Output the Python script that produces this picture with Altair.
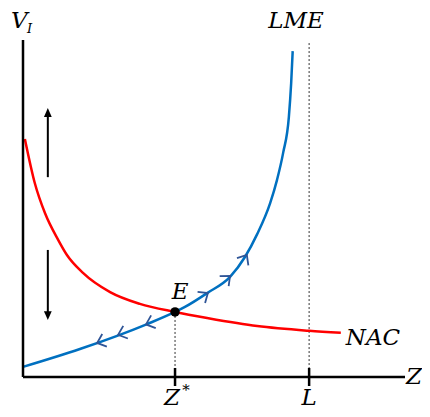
import altair as alt
import pandas as pd

# ---- data (Z on x, V_I on y; axes 0..10) ----
lme_z = [0.0, 1.49, 3.25, 3.98, 4.24, 4.82, 5.42, 5.81, 6.13, 6.47, 6.65, 6.81, 6.96, 7.02, 7.06]
lme_v = [0.30, 0.83, 1.57, 1.93, 2.08, 2.49, 2.97, 3.56, 4.24, 5.16, 5.85, 6.65, 7.72, 8.72, 9.67]

nac_z = [0.05, 0.31, 0.58, 0.92, 1.15, 1.57, 2.28, 3.06, 3.98, 4.82, 6.13, 7.49, 8.32]
nac_v = [7.06, 5.75, 4.85, 4.07, 3.62, 3.09, 2.52, 2.17, 1.93, 1.75, 1.51, 1.37, 1.31]

z_star = 3.98
v_star = 1.93
z_L = 7.49
v_L_top = 9.91

# flow chevrons along LME
chev_z = [1.94, 2.49, 3.22, 4.84, 5.42, 5.86]
chev_v = [1.01, 1.25, 1.56, 2.49, 3.00, 3.62]
chev_ang = [160, 160, 160, 326, 318, 302]

# vertical adjustment arrows
arrow_z = 0.65
up_from, up_to = 5.93, 7.98
down_from, down_to = 3.77, 1.69

W, H = 382, 337
XS = alt.Scale(domain=[0, 10], nice=False, zero=False)
YS = alt.Scale(domain=[0, 10], nice=False, zero=False)
FONT = "DejaVu Serif"
FS = 23
BLUE = "#0070C0"
RED = "#FF0000"
CHEV = "#2F5597"


def X(f="Z"):
    return alt.X(f"{f}:Q", scale=XS, axis=None)


def Y(f="V"):
    return alt.Y(f"{f}:Q", scale=YS, axis=None)


lme_df = pd.DataFrame({"Z": lme_z, "V": lme_v, "o": range(len(lme_z))})
nac_df = pd.DataFrame({"Z": nac_z, "V": nac_v, "o": range(len(nac_z))})
chev_df = pd.DataFrame({"Z": chev_z, "V": chev_v, "ang": chev_ang})

# axes lines
x_axis = alt.Chart(pd.DataFrame({"a": [0]})).mark_rule(color="black", strokeWidth=2.5).encode(
    x=alt.value(0), x2=alt.value(W), y=alt.value(H))
y_axis = alt.Chart(pd.DataFrame({"a": [0]})).mark_rule(color="black", strokeWidth=2.5).encode(
    x=alt.value(0), y=alt.value(0), y2=alt.value(H))

# tick marks at Z* and L
ticks = alt.Chart(pd.DataFrame({"Z": [z_star, z_L]})).mark_rule(color="black", strokeWidth=2.5).encode(
    x=X(), y=alt.value(H - 9), y2=alt.value(H + 9))

# dashed guides
guides = alt.Chart(pd.DataFrame({"Z": [z_star, z_L], "V": [v_star, v_L_top], "V0": [0, 0]})).mark_rule(
    color="#333333", strokeWidth=1, strokeDash=[2, 2]).encode(x=X(), y=Y(), y2="V0:Q")

nac = alt.Chart(nac_df).mark_line(color=RED, strokeWidth=2.5, interpolate="monotone").encode(
    x=X(), y=Y(), order="o:O")
lme = alt.Chart(lme_df).mark_line(color=BLUE, strokeWidth=2.5, interpolate="monotone").encode(
    x=X(), y=Y(), order="o:O")

chev = alt.Chart(chev_df).mark_point(
    shape="M-1,-0.85L0,0L-1,0.85", filled=False, color=CHEV, strokeWidth=1.8, size=250, opacity=1
).encode(x=X(), y=Y(), angle=alt.Angle("ang:Q", scale=None))

eq = alt.Chart(pd.DataFrame({"Z": [z_star], "V": [v_star]})).mark_point(
    filled=True, color="black", size=90, opacity=1).encode(x=X(), y=Y())

# adjustment arrows
shafts = alt.Chart(pd.DataFrame({"Z": [arrow_z, arrow_z], "V": [up_from, down_from],
                                 "V2": [up_to - 0.2, down_to + 0.2]})).mark_rule(
    color="black", strokeWidth=2).encode(x=X(), y=Y(), y2="V2:Q")
head_up = alt.Chart(pd.DataFrame({"Z": [arrow_z], "V": [up_to]})).mark_point(
    shape="M0,0L-0.55,1.25L0.55,1.25Z", filled=True, color="black", size=200, opacity=1).encode(x=X(), y=Y())
head_down = alt.Chart(pd.DataFrame({"Z": [arrow_z], "V": [down_to]})).mark_point(
    shape="M0,0L-0.55,-1.25L0.55,-1.25Z", filled=True, color="black", size=200, opacity=1).encode(x=X(), y=Y())


def label(txt, size=FS, align="left", baseline="alphabetic", **enc):
    return alt.Chart(pd.DataFrame({"a": [0]})).mark_text(
        text=txt, font=FONT, fontStyle="italic", fontSize=size, align=align, baseline=baseline,
        color="black").encode(**enc)


t_V = label("V", x=alt.value(-12), y=alt.value(-12))
t_I = label("I", size=13, x=alt.value(4), y=alt.value(-7))
t_LME = label("LME", align="center", x=alt.value(273), y=alt.value(-12))
t_E = alt.Chart(pd.DataFrame({"Z": [z_star], "V": [v_star]})).mark_text(
    text="E", font=FONT, fontStyle="italic", fontSize=FS, align="center", baseline="alphabetic",
    dx=5, dy=-13, color="black").encode(x=X(), y=Y())
t_NAC = alt.Chart(pd.DataFrame({"Z": [nac_z[-1]], "V": [nac_v[-1]]})).mark_text(
    text="NAC", font=FONT, fontStyle="italic", fontSize=FS, align="left", baseline="alphabetic",
    dx=5, dy=12, color="black").encode(x=X(), y=Y())
t_Z = label("Z", x=alt.value(W + 1), y=alt.value(H + 7))
t_Zs = alt.Chart(pd.DataFrame({"Z": [z_star]})).mark_text(
    text="Z", font=FONT, fontStyle="italic", fontSize=FS, align="center", baseline="alphabetic",
    dx=-3, color="black").encode(x=X(), y=alt.value(H + 28))
t_star = alt.Chart(pd.DataFrame({"Z": [z_star]})).mark_text(
    text="*", font=FONT, fontSize=15, align="center", baseline="alphabetic",
    dx=11, color="black").encode(x=X(), y=alt.value(H + 18))
t_L = alt.Chart(pd.DataFrame({"Z": [z_L]})).mark_text(
    text="L", font=FONT, fontStyle="italic", fontSize=FS, align="center", baseline="alphabetic",
    color="black").encode(x=X(), y=alt.value(H + 28))

chart = alt.layer(
    guides, nac, lme, chev, eq, shafts, head_up, head_down, x_axis, y_axis, ticks,
    t_V, t_I, t_LME, t_E, t_NAC, t_Z, t_Zs, t_star, t_L
).properties(
    width=W, height=H,
    autosize=alt.AutoSizeParams(type="none"),
    padding={"left": 15, "top": 32, "right": 17, "bottom": 32},
).configure_view(stroke=None)

chart.save("out.html", embed_options={"renderer": "svg", "actions": False})
